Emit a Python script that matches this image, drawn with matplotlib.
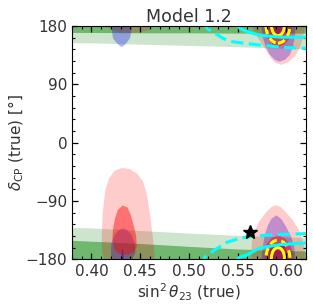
import matplotlib
matplotlib.use("Agg")
import matplotlib.pyplot as plt
from matplotlib.patches import Ellipse
from matplotlib.ticker import MultipleLocator

# delta_CP is periodic: every shape is drawn at -360, 0 and +360
wrap = [-360, 0, 360]

# horizontal band (green), delta given unwrapped around 180 deg
band_x = [0.37, 0.40, 0.45, 0.50, 0.55, 0.60, 0.63]
band2_lo = [154.5, 154, 152, 150, 148, 145.5, 144]
band2_hi = [229.5, 228.5, 224.5, 220.5, 217, 214.5, 214]
band1_lo = [170, 170, 169.5, 169.5, 169, 169, 169]
band1_hi = [210, 208, 204.5, 200, 196, 193.5, 192.5]

# red regions, lower octant island
red2_lo_x = [0.440, 0.430, 0.421, 0.4135, 0.411, 0.4105, 0.4115, 0.414, 0.418, 0.424, 0.432,
             0.440, 0.447, 0.453, 0.457, 0.460, 0.463, 0.465, 0.459, 0.450]
red2_lo_d = [-191, -190, -186, -180, -170, -150, -110, -75, -55, -43, -39,
             -41, -48, -60, -80, -110, -145, -178, -186, -190]
red1_lo_x = [0.432, 0.437, 0.440, 0.443, 0.446, 0.4465, 0.444, 0.437, 0.429, 0.424, 0.4215, 0.422, 0.424, 0.427]
red1_lo_d = [-97, -100, -110, -125, -145, -160, -169, -173, -172, -166, -150, -135, -118, -104]

# red regions, upper octant island (unwrapped around 180)
red2_hi_x = [0.595, 0.602, 0.609, 0.614, 0.617, 0.619, 0.619, 0.617, 0.613, 0.607, 0.600, 0.594,
             0.590, 0.585, 0.579, 0.572, 0.567, 0.5645, 0.5645, 0.568, 0.5735, 0.579, 0.584, 0.589]
red2_hi_d = [120, 124, 133, 146, 160, 180, 195, 210, 225, 240, 252, 261,
             263.5, 261, 252, 238, 222, 205, 182, 168, 156, 143, 131, 123]
red1_hi_x = [0.592, 0.598, 0.603, 0.606, 0.6065, 0.604, 0.599, 0.592, 0.585, 0.580, 0.578, 0.578, 0.581, 0.586]
red1_hi_d = [148, 151, 160, 175, 190, 203, 212, 217, 213, 204, 190, 175, 160, 151]

# blue regions
blue2_lo_x = [0.4326, 0.437, 0.441, 0.4445, 0.445, 0.442, 0.4395, 0.435, 0.431,
              0.427, 0.422, 0.4205, 0.420, 0.4205, 0.424, 0.428]
blue2_lo_d = [-132, -135, -142, -155, -170, -180, -199, -208, -212.5,
              -208, -199, -180, -170, -155, -142, -135]
blue1_lo_x = [0.4316, 0.4326, 0.4330, 0.4330, 0.4314, 0.4310]
blue1_lo_d = [-163, -168, -175, -182, -182, -170]
blue2_hi_x = [0.593, 0.599, 0.604, 0.607, 0.609, 0.6095, 0.608, 0.605, 0.600, 0.595,
              0.590, 0.585, 0.581, 0.578, 0.576, 0.5745, 0.576, 0.579, 0.583, 0.588]
blue2_hi_d = [125, 128, 136, 149, 165, 180, 200, 215, 230, 242,
              248, 243, 232, 218, 200, 180, 162, 148, 136, 128]
blue1_hi_x = [0.5915, 0.597, 0.600, 0.6005, 0.598, 0.5915, 0.585, 0.5825, 0.582, 0.586]
blue1_hi_d = [160, 164, 175, 192, 201, 205, 201, 192, 175, 164]

# cyan contours (unwrapped around 180)
cyan1_x = [0.63, 0.62, 0.5934, 0.5733, 0.560, 0.5523, 0.5503, 0.5506, 0.553, 0.559, 0.5728, 0.5933, 0.62, 0.63]
cyan1_d = [162.5, 162.6, 162.8, 165.6, 171, 176.4, 180, 182, 184, 186.2, 197.5, 202.7, 205.2, 205.5]
cyan2_x = [0.63, 0.62, 0.597, 0.573, 0.5523, 0.542, 0.535, 0.5267, 0.520, 0.5164,
           0.5158, 0.518, 0.525, 0.5387, 0.5523, 0.566, 0.5955, 0.62, 0.63]
cyan2_d = [145, 145.5, 147, 150.6, 154.2, 156.5, 161, 168.7, 175, 180,
           182, 186, 193, 206, 212.4, 216, 218.5, 219.7, 220]

# yellow contours: centre, full width, full height
yel_x, yel_d = 0.5915, 181.5
yel1_w, yel1_h = 0.0135, 33
yel2_w, yel2_h = 0.0245, 56

# true point
star_x = [0.563]
star_d = [-138]

fig = plt.figure(figsize=(3.13, 3.08), dpi=100)
ax = fig.add_axes([0.230, 0.158, 0.7467, 0.7576])
txt = '#333333'

for off in wrap:
    ax.fill_between(band_x, [v + off for v in band2_lo], [v + off for v in band2_hi],
                    color='green', alpha=0.2, lw=0)
    ax.fill_between(band_x, [v + off for v in band1_lo], [v + off for v in band1_hi],
                    color='green', alpha=0.45, lw=0)

for off in wrap:
    ax.fill(blue2_lo_x, [v + off for v in blue2_lo_d], color='blue', alpha=0.3, lw=0)
    ax.fill(blue1_lo_x, [v + off for v in blue1_lo_d], color='blue', alpha=0.6, lw=0)
    ax.fill(blue2_hi_x, [v + off for v in blue2_hi_d], color='blue', alpha=0.3, lw=0)
    ax.fill(blue1_hi_x, [v + off for v in blue1_hi_d], color='blue', alpha=0.5, lw=0)

for off in wrap:
    ax.fill(red2_lo_x, [v + off for v in red2_lo_d], color='red', alpha=0.2, lw=0)
    ax.fill(red1_lo_x, [v + off for v in red1_lo_d], color='red', alpha=0.45, lw=0)
    ax.fill(red2_hi_x, [v + off for v in red2_hi_d], color='red', alpha=0.2, lw=0)
    ax.fill(red1_hi_x, [v + off for v in red1_hi_d], color='red', alpha=0.45, lw=0)

for off in wrap:
    ax.plot(cyan1_x, [v + off for v in cyan1_d], color='cyan', lw=2.2)
    ax.plot(cyan2_x, [v + off for v in cyan2_d], color='cyan', lw=2.2, ls=(0, (4, 1.8)))
    ax.add_patch(Ellipse((yel_x, yel_d + off), yel1_w, yel1_h, fill=False, ec='yellow', lw=2.2))
    ax.add_patch(Ellipse((yel_x, yel_d + off), yel2_w, yel2_h, fill=False, ec='yellow', lw=2.2,
                         ls=(0, (2.5, 1.5))))

ax.plot(star_x, star_d, marker='*', color='black', ms=10, ls='none')

ax.set_xlim(0.38, 0.62)
ax.set_ylim(-180, 180)
ax.xaxis.set_major_locator(MultipleLocator(0.05))
ax.xaxis.set_minor_locator(MultipleLocator(0.01))
ax.yaxis.set_major_locator(MultipleLocator(90))
ax.yaxis.set_minor_locator(MultipleLocator(18))
ax.tick_params(which='both', direction='in', top=True, right=True, colors='black',
               labelcolor=txt, labelsize=11)
ax.tick_params(which='major', length=4, width=0.9)
ax.tick_params(which='minor', length=2.2, width=0.8)
ax.xaxis.set_major_formatter(matplotlib.ticker.FormatStrFormatter('%.2f'))

ax.set_xlabel(r'$\sin^2\theta_{23}$ (true)', fontsize=11, color=txt, labelpad=2)
ax.set_ylabel(r'$\delta_{\rm CP}$ (true) [°]', fontsize=11, color=txt, labelpad=0)
ax.set_title('Model 1.2', fontsize=12.5, color=txt, pad=3)

fig.savefig('out.png', dpi=100)
